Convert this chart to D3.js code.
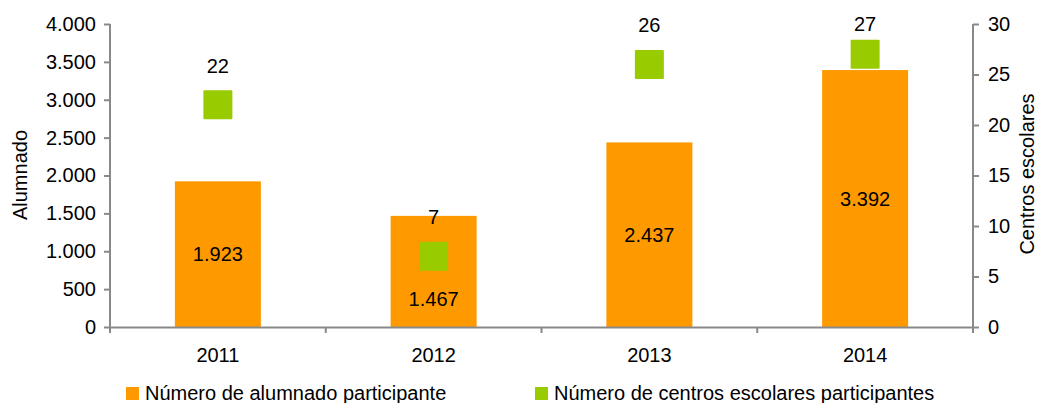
<!DOCTYPE html>
<html>
<head>
<meta charset="utf-8">
<script src="https://cdn.jsdelivr.net/npm/d3@7"></script>
<style>
  body { margin: 0; background: #fff; }
  text { font-family: "Liberation Sans", Arial, sans-serif; fill: #000; }
</style>
</head>
<body>
<svg id="chart" width="1039" height="403"></svg>
<script>
const years = ["2011", "2012", "2013", "2014"];
const alumnado = [1923, 1467, 2437, 3392];
const centros = [22, 7, 26, 27];
// bar label position in alumnado units: bar middle, except 2012 pushed under the marker
const labelAt = [961.5, 370, 1218.5, 1696];
const leftTicks = [0, 500, 1000, 1500, 2000, 2500, 3000, 3500, 4000];
const rightTicks = [0, 5, 10, 15, 20, 25, 30];
const seriesNames = ["Número de alumnado participante", "Número de centros escolares participantes"];

const orange = "#ff9900", green = "#99cc00", axisGray = "#898989";
const plotL = 110, plotR = 973, plotT = 24, plotB = 327;
const fs = 20;

const svg = d3.select("#chart");
const fmt = d => d3.format(",")(d).replace(/,/g, ".");

const x = d3.scaleBand().domain(years).range([plotL, plotR]);
const yL = d3.scaleLinear().domain([0, 4000]).range([plotB, plotT]);
const yR = d3.scaleLinear().domain([0, 30]).range([plotB, plotT]);
const cx = d => x(d) + x.bandwidth() / 2;

// bars
const barW = 86;
svg.append("g").selectAll("rect")
  .data(years)
  .join("rect")
    .attr("x", d => cx(d) - barW / 2)
    .attr("y", (d, i) => yL(alumnado[i]))
    .attr("width", barW)
    .attr("height", (d, i) => yL(0) - yL(alumnado[i]))
    .attr("fill", orange);

svg.append("g").selectAll("text")
  .data(years)
  .join("text")
    .attr("x", cx)
    .attr("y", (d, i) => yL(labelAt[i]))
    .attr("dy", "0.35em")
    .attr("text-anchor", "middle")
    .attr("font-size", fs)
    .text((d, i) => fmt(alumnado[i]));

// axes
const axL = svg.append("g").attr("transform", `translate(${plotL},0)`)
  .call(d3.axisLeft(yL).tickValues(leftTicks).tickFormat(fmt).tickSize(6).tickPadding(8));
const axR = svg.append("g").attr("transform", `translate(${plotR},0)`)
  .call(d3.axisRight(yR).tickValues(rightTicks).tickSize(6).tickPadding(9));

// category axis, ticks sit between categories
const axB = svg.append("g").attr("transform", `translate(0,${plotB})`)
  .call(d3.axisBottom(x).tickSize(0).tickPadding(21));
axB.selectAll(".tick").append("line")
  .attr("x1", x.bandwidth() / 2).attr("x2", x.bandwidth() / 2)
  .attr("y1", 0).attr("y2", 6);
axB.append("line")
  .attr("x1", plotL).attr("x2", plotL).attr("y1", 0).attr("y2", 6);

[axL, axR, axB].forEach(a => {
  a.select(".domain").attr("stroke", axisGray).attr("stroke-width", 2);
  a.selectAll("line").attr("stroke", axisGray).attr("stroke-width", 2);
  a.selectAll("text").attr("font-size", fs).attr("font-family", "Liberation Sans, Arial, sans-serif").attr("fill", "#000");
});
axL.select(".domain").attr("d", `M0,${plotT}V${plotB}`);
axR.select(".domain").attr("d", `M0,${plotT}V${plotB}`);

// markers
const mk = 29;
svg.append("g").selectAll("rect")
  .data(years)
  .join("rect")
    .attr("x", d => cx(d) - mk / 2)
    .attr("y", (d, i) => yR(centros[i]) - mk / 2)
    .attr("width", mk).attr("height", mk)
    .attr("rx", 1)
    .attr("fill", green);

// marker labels above, kept inside the plot top
svg.append("g").selectAll("text")
  .data(years)
  .join("text")
    .attr("x", cx)
    .attr("y", (d, i) => Math.max(yR(centros[i]) - 39, plotT))
    .attr("dy", "0.35em")
    .attr("text-anchor", "middle")
    .attr("font-size", fs)
    .text((d, i) => centros[i]);

// axis titles
svg.append("text")
  .attr("transform", `translate(20,175) rotate(-90)`)
  .attr("dy", "0.35em")
  .attr("text-anchor", "middle")
  .attr("font-size", fs)
  .text("Alumnado");
svg.append("text")
  .attr("transform", `translate(1027,174) rotate(-90)`)
  .attr("dy", "0.35em")
  .attr("text-anchor", "middle")
  .attr("font-size", fs)
  .text("Centros escolares");

// legend
const legX = [126, 535];
const legend = svg.append("g").selectAll("g")
  .data(seriesNames)
  .join("g")
    .attr("transform", (d, i) => `translate(${legX[i]},387)`);
legend.append("rect")
  .attr("width", 13).attr("height", 13)
  .attr("fill", (d, i) => i === 0 ? orange : green);
legend.append("text")
  .attr("x", 19).attr("y", 13)
  .attr("font-size", fs)
  .text(d => d);
</script>
</body>
</html>
